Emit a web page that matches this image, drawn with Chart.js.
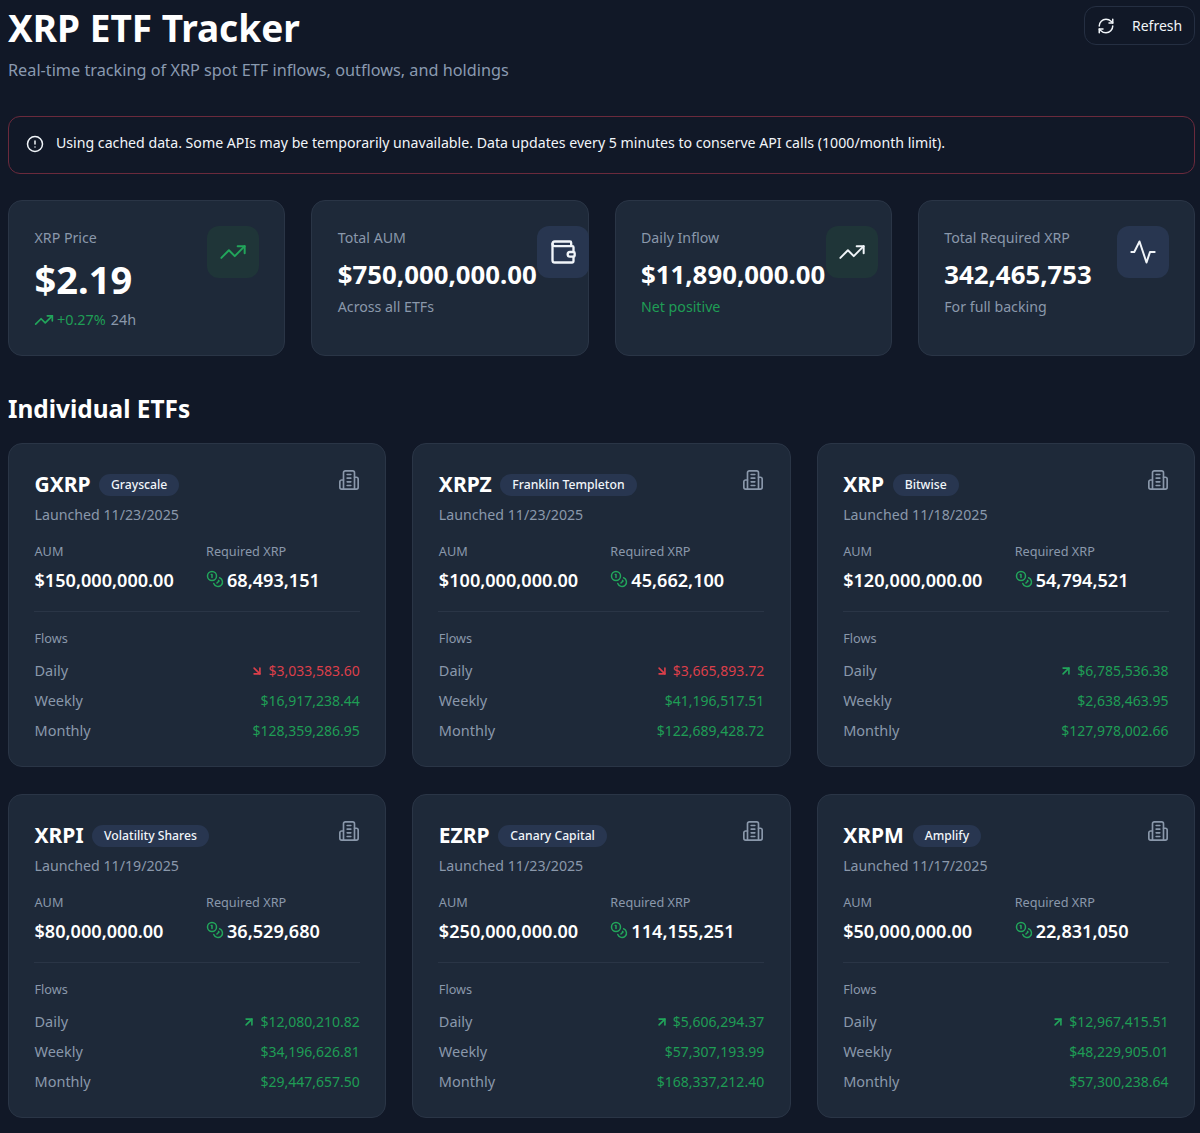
<!DOCTYPE html>
<html>
<head>
<meta charset="utf-8">
<title>XRP ETF Tracker</title>
<script src="https://cdn.jsdelivr.net/npm/chart.js@4"></script>
<style>
* { box-sizing: border-box; margin: 0; padding: 0; }
html, body { width: 1200px; height: 1133px; overflow: hidden; background: #111827; }
body { position: relative; font-family: "Noto Sans", sans-serif; color: #fff; }
.abs, .stat > *, .etf > * { position: absolute; white-space: nowrap; }
h1 { left: 8px; top: 4px; font-size: 37px; line-height: 48px; font-weight: 700; }
.subtitle { left: 8px; top: 58px; font-size: 16.25px; line-height: 24px; color: #8a9ab0; }
.refresh { left: 1084px; top: 6px; width: 111px; height: 39px; border: 1px solid #252f42; border-radius: 12px; }
.refresh svg { position: absolute; left: 12px; top: 10px; }
.refresh span { position: absolute; left: 47px; top: 9px; font-size: 14px; line-height: 20px; color: #f1f5f9; }
.alert { left: 8px; top: 116px; width: 1187px; height: 58px; border: 1px solid #6b2a3c; border-radius: 12px; }
.alert svg { position: absolute; left: 16.5px; top: 17.5px; }
.alert span { position: absolute; left: 47px; top: 16px; font-size: 14.15px; line-height: 20px; color: #f1f5f9; }
.stats { left: 8px; top: 200px; width: 1187px; display: grid; grid-template-columns: repeat(4, 1fr); gap: 26px; }
.stat, .etf { position: relative; background: #1e2939; border: 1px solid #2a3546; border-radius: 14px; }
.stat { height: 156px; }
.stat .label { left: 25.5px; top: 27px; font-size: 14.2px; line-height: 20px; color: #8a98ab; }
.stat .value { left: 25.5px; top: 55px; font-size: 25.8px; line-height: 36px; font-weight: 700; }
.stat .value.big { font-size: 38px; top: 53px; line-height: 50px; }
.stat .sub { left: 25.5px; top: 96px; font-size: 14.2px; line-height: 20px; color: #8a98ab; }
.stat .sub.pos { color: #1f9d55; }
.stat .change { left: 25px; top: 109px; font-size: 14.4px; line-height: 20px; color: #8a98ab; display: flex; align-items: center; }
.stat .change b { font-weight: 400; color: #1f9d55; margin: 0 5px 0 3px; }
.box { top: 25px; width: 52px; height: 52px; border-radius: 12px; padding: 12px; }
.box.green { background: #1f3538; }
.box.blue { background: #283650; }
.heading { left: 8px; top: 391px; font-size: 24.4px; line-height: 36px; font-weight: 700; }
.etfs { left: 8px; top: 443px; width: 1187px; display: grid; grid-template-columns: repeat(3, 1fr); gap: 27px 26px; }
.etf { height: 324px; }
.etf .ticker { left: 25.5px; top: 25px; font-size: 21px; line-height: 30px; font-weight: 700; }
.etf .badge { top: 29.5px; height: 22px; line-height: 22px; padding: 0 12px; border-radius: 11px; background: #283650; font-size: 12.2px; font-weight: 500; color: #f1f5f9; }
.etf .bld { left: 329px; top: 25px; }
.etf .launched { left: 25.5px; top: 61px; font-size: 14.2px; line-height: 20px; color: #8a98ab; }
.etf .cap { font-size: 12.7px; line-height: 18px; color: #8a98ab; }
.etf .amount { top: 121px; font-size: 18.1px; line-height: 30px; font-weight: 600; }
.etf .coins { left: 197px; top: 126px; }
.etf .rule { left: 25px; top: 167px; width: 326px; height: 1px; background: #2a3546; }
.etf .name { left: 25.5px; font-size: 14.5px; line-height: 20px; color: #8a98ab; }
.etf .flow { right: 25.5px; font-size: 14px; line-height: 20px; display: flex; align-items: center; }
.flow.pos { color: #1f9d55; }
.flow.neg { color: #dc3f4a; }
.flow canvas { margin-right: 4px; }
canvas { display: block; }
</style>
</head>
<body>
<h1 class="abs">XRP ETF Tracker</h1>
<div class="abs subtitle">Real-time tracking of XRP spot ETF inflows, outflows, and holdings</div>
<div class="abs refresh">
  <svg width="18" height="18" viewBox="0 0 24 24" fill="none" stroke="#f1f5f9" stroke-width="2" stroke-linecap="round" stroke-linejoin="round"><path d="M3 12a9 9 0 0 1 9-9 9.75 9.75 0 0 1 6.74 2.74L21 8"/><path d="M21 3v5h-5"/><path d="M21 12a9 9 0 0 1-9 9 9.75 9.75 0 0 1-6.74-2.74L3 16"/><path d="M8 16H3v5"/></svg>
  <span>Refresh</span>
</div>
<div class="abs alert">
  <svg width="18" height="18" viewBox="0 0 24 24" fill="none" stroke="#f1f5f9" stroke-width="2" stroke-linecap="round" stroke-linejoin="round"><circle cx="12" cy="12" r="10"/><line x1="12" y1="8" x2="12" y2="12"/><line x1="12" y1="16" x2="12.01" y2="16"/></svg>
  <span>Using cached data. Some APIs may be temporarily unavailable. Data updates every 5 minutes to conserve API calls (1000/month limit).</span>
</div>
<div class="abs stats" id="stats"></div>
<div class="abs heading">Individual ETFs</div>
<div class="abs etfs" id="etfs"></div>

<script>
// Summary row
const xrpPrice = 2.19;
const priceChange = 0.27;
const totalAum = 750000000;
const dailyInflow = 11890000;
const totalRequired = 342465753;

// ETF cards
const tickers = ["GXRP", "XRPZ", "XRP", "XRPI", "EZRP", "XRPM"];
const issuers = ["Grayscale", "Franklin Templeton", "Bitwise", "Volatility Shares", "Canary Capital", "Amplify"];
const launchDates = ["11/23/2025", "11/23/2025", "11/18/2025", "11/19/2025", "11/23/2025", "11/17/2025"];
const aumValues = [150000000, 100000000, 120000000, 80000000, 250000000, 50000000];
const requiredXrp = [68493151, 45662100, 54794521, 36529680, 114155251, 22831050];
const dailyFlows = [-3033583.60, -3665893.72, 6785536.38, 12080210.82, 5606294.37, 12967415.51];
const weeklyFlows = [16917238.44, 41196517.51, 2638463.95, 34196626.81, 57307193.99, 48229905.01];
const monthlyFlows = [128359286.95, 122689428.72, 127978002.66, 29447657.50, 168337212.40, 57300238.64];

// Little trend lines, on a 24 by 24 value grid
const trendUp = [[{x:2,y:17},{x:8.5,y:10.5},{x:13.5,y:15.5},{x:22,y:7}], [{x:16,y:7},{x:22,y:7},{x:22,y:13}]];
const pulse = [[{x:2,y:12},{x:4.5,y:12},{x:9,y:3},{x:15,y:21},{x:18,y:12},{x:22,y:12}]];
const arrowUp = [[{x:7,y:17},{x:17,y:7}], [{x:7,y:7},{x:17,y:7},{x:17,y:17}]];
const arrowDown = [[{x:7,y:7},{x:17,y:17}], [{x:17,y:7},{x:17,y:17},{x:7,y:17}]];

const GREEN = "#22a55b";
const RED = "#dc3f4a";

function money(v) {
    return "$" + Math.abs(v).toLocaleString("en-US", { minimumFractionDigits: 2, maximumFractionDigits: 2 });
}

function spark(size, lines, color, width) {
    const canvas = document.createElement("canvas");
    canvas.width = size;
    canvas.height = size;
    canvas.style.width = size + "px";
    canvas.style.height = size + "px";
    canvas._lines = [lines, color, width];
    return canvas;
}

function drawSparks() {
    document.querySelectorAll("canvas").forEach(canvas => {
        const [lines, color, width] = canvas._lines;
        new Chart(canvas, {
            type: "scatter",
            data: {
                datasets: lines.map(line => ({
                    data: line, showLine: true, borderColor: color, borderWidth: width,
                    pointRadius: 0, borderCapStyle: "round", borderJoinStyle: "round"
                }))
            },
            options: {
                responsive: false,
                animation: false,
                events: [],
                plugins: { legend: { display: false }, tooltip: { enabled: false } },
                scales: {
                    x: { display: false, min: 0, max: 24 },
                    y: { display: false, min: 0, max: 24, reverse: true }
                }
            }
        });
    });
}

const WALLET = `<svg width="28" height="28" viewBox="0 0 24 24" fill="none" stroke="#f1f5f9" stroke-width="2" stroke-linecap="round" stroke-linejoin="round"><path d="M19 7V4a1 1 0 0 0-1-1H5a2 2 0 0 0 0 4h15a1 1 0 0 1 1 1v4h-3a2 2 0 0 0 0 4h3a1 1 0 0 0 1-1v-2a1 1 0 0 0-1-1"/><path d="M3 5v14a2 2 0 0 0 2 2h15a1 1 0 0 0 1-1v-4"/></svg>`;
const BUILDING = `<svg class="bld" width="22" height="22" viewBox="0 0 24 24" fill="none" stroke="#8a98ab" stroke-width="1.8" stroke-linecap="round" stroke-linejoin="round"><path d="M6 22V4a2 2 0 0 1 2-2h8a2 2 0 0 1 2 2v18Z"/><path d="M6 12H4a2 2 0 0 0-2 2v6a2 2 0 0 0 2 2h2"/><path d="M18 9h2a2 2 0 0 1 2 2v9a2 2 0 0 1-2 2h-2"/><path d="M10 6h4"/><path d="M10 10h4"/><path d="M10 14h4"/><path d="M10 18h4"/></svg>`;
const COINS = `<svg class="coins" width="18" height="18" viewBox="0 0 24 24" fill="none" stroke="${GREEN}" stroke-width="2" stroke-linecap="round" stroke-linejoin="round"><circle cx="8" cy="8" r="6"/><path d="M18.09 10.37A6 6 0 1 1 10.34 18"/><path d="M7 6h1v4"/><path d="m16.71 13.88.7.71-2.82 2.82"/></svg>`;

// Stat cards
function addStat(html, boxLeft, boxClass, icon) {
    const card = document.createElement("div");
    card.className = "stat";
    card.innerHTML = html;
    const box = document.createElement("div");
    box.className = "box " + boxClass;
    box.style.left = boxLeft + "px";
    if (typeof icon === "string") box.innerHTML = icon; else box.appendChild(icon);
    card.appendChild(box);
    document.getElementById("stats").appendChild(card);
    return card;
}

addStat(`<div class="label">XRP Price</div><div class="value big">$${xrpPrice}</div><div class="change" id="chg"><b>+${priceChange}%</b>24h</div>`, 198, "green", spark(28, trendUp, GREEN, 2));
document.getElementById("chg").prepend(spark(20, trendUp, GREEN, 1.7));
addStat(`<div class="label">Total AUM</div><div class="value">${money(totalAum)}</div><div class="sub">Across all ETFs</div>`, 225, "blue", WALLET);
addStat(`<div class="label">Daily Inflow</div><div class="value">${money(dailyInflow)}</div><div class="sub pos">Net positive</div>`, 210, "green", spark(28, trendUp, "#f1f5f9", 2));
addStat(`<div class="label">Total Required XRP</div><div class="value">${totalRequired.toLocaleString("en-US")}</div><div class="sub">For full backing</div>`, 198, "blue", spark(28, pulse, "#f1f5f9", 2));

// ETF cards
tickers.forEach((ticker, i) => {
    const card = document.createElement("div");
    card.className = "etf";
    card.innerHTML = `
        <div class="ticker">${ticker}</div>
        <div class="badge">${issuers[i]}</div>
        ${BUILDING}
        <div class="launched">Launched ${launchDates[i]}</div>
        <div class="cap" style="left:25.5px;top:98px">AUM</div>
        <div class="cap" style="left:197px;top:98px">Required XRP</div>
        <div class="amount" style="left:25.5px">${money(aumValues[i])}</div>
        ${COINS}
        <div class="amount" style="left:218px">${requiredXrp[i].toLocaleString("en-US")}</div>
        <div class="rule"></div>
        <div class="cap" style="left:25.5px;top:185px">Flows</div>
        <div class="name" style="top:216px">Daily</div>
        <div class="flow ${dailyFlows[i] < 0 ? "neg" : "pos"}" style="top:217px"><span>${money(dailyFlows[i])}</span></div>
        <div class="name" style="top:246px">Weekly</div>
        <div class="flow pos" style="top:247px"><span>${money(weeklyFlows[i])}</span></div>
        <div class="name" style="top:276px">Monthly</div>
        <div class="flow pos" style="top:277px"><span>${money(monthlyFlows[i])}</span></div>`;
    const neg = dailyFlows[i] < 0;
    card.querySelector(".flow").prepend(spark(14, neg ? arrowDown : arrowUp, neg ? RED : GREEN, 1.6));
    document.getElementById("etfs").appendChild(card);
    const tickerWidth = card.querySelector(".ticker").offsetWidth;
    card.querySelector(".badge").style.left = (25.5 + tickerWidth + 8.5) + "px";
});

drawSparks();
</script>
</body>
</html>
